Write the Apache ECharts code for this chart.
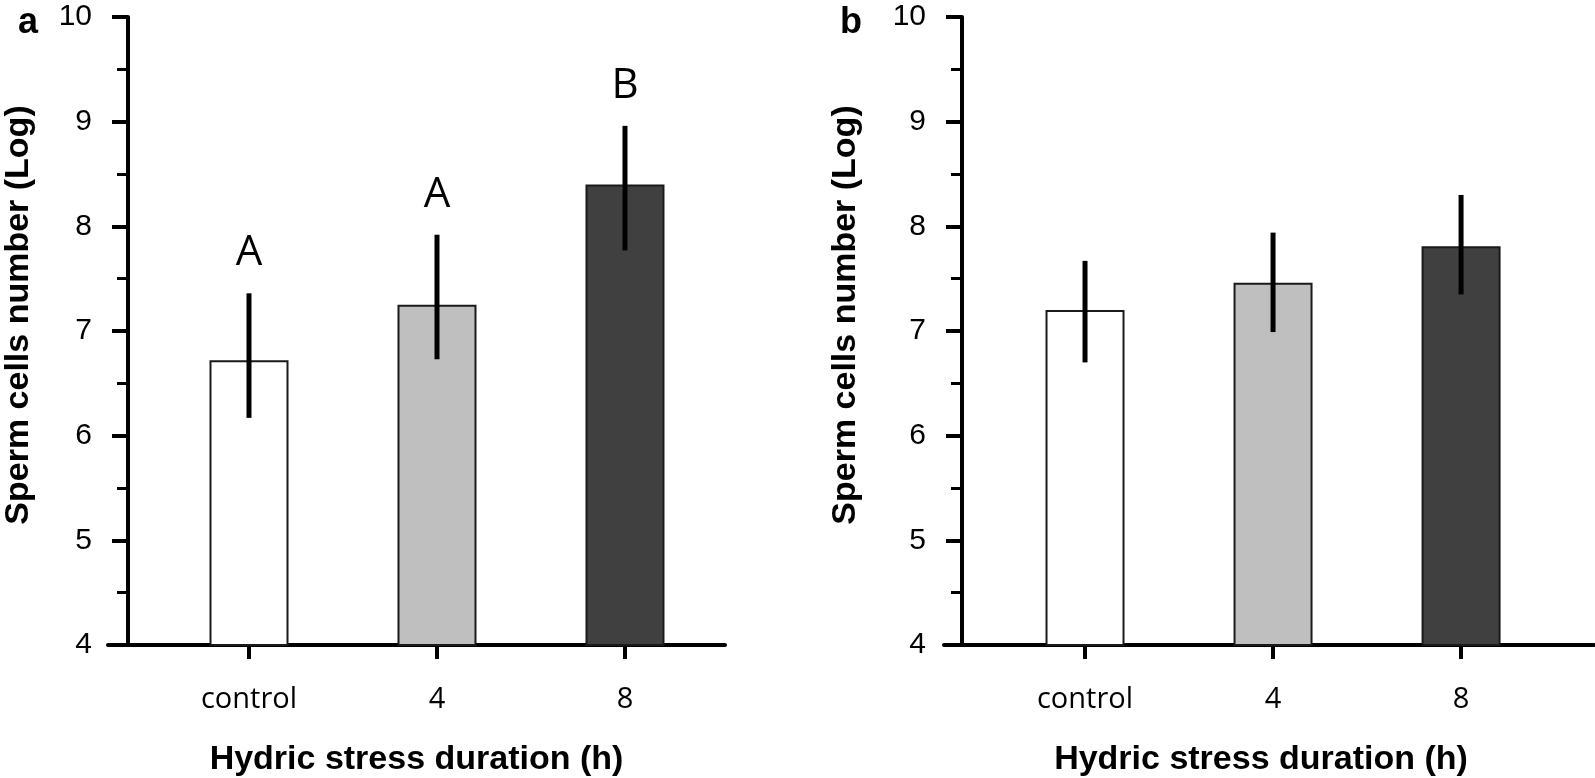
<!DOCTYPE html>
<html>
<head>
<meta charset="utf-8">
<script src="https://cdn.jsdelivr.net/npm/echarts@6/dist/echarts.min.js"></script>
<style>
html,body{margin:0;padding:0;background:#fff;}
#c{width:1595px;height:778px;}
</style>
</head>
<body>
<div id="c"></div>
<script>
// ---- data ----
const categories = ['control', '4', '8'];
const meanA = [6.72, 7.25, 8.40];
const lowA  = [6.17, 6.73, 7.77];
const highA = [7.36, 7.92, 8.96];
const lettersA = ['A', 'A', 'B'];
const meanB = [7.20, 7.46, 7.81];
const lowB  = [6.70, 6.99, 7.35];
const highB = [7.67, 7.94, 8.30];
const lettersB = ['', '', ''];
const panelLabels = ['a', 'b'];
const barColors = ['#ffffff', '#bfbfbf', '#404040'];
const yName = 'Sperm cells number (Log)';
const xName = 'Hydric stress duration (h)';

const chart = echarts.init(document.getElementById('c'), null, {renderer: 'canvas'});

function xAxisDef(gi, maxV, padRight) {
  return {
    type: 'value', gridIndex: gi, min: -0.75, max: maxV,
    splitLine: {show: false},
    axisLine: {show: true, onZero: false, lineStyle: {color: '#000', width: 4}},
    axisTick: {show: true, customValues: [0, 1, 2], length: 14, lineStyle: {color: '#000', width: 4}},
    axisLabel: {show: true, customValues: [0, 1, 2], margin: 40,
      formatter: v => categories[Math.round(v)],
      fontFamily: 'Open Sans', fontSize: 29, color: '#000'},
    name: xName, nameLocation: 'middle', nameGap: 98,
    nameTextStyle: {fontFamily: 'Liberation Sans', fontWeight: 'bold', fontSize: 34, color: '#000', padding: [0, padRight, 0, 0]}
  };
}
function yAxisDef(gi, offset, gap) {
  return {
    type: 'value', gridIndex: gi, min: 4, max: 10, interval: 1, offset: offset,
    splitLine: {show: false},
    axisLine: {show: true, onZero: false, lineStyle: {color: '#000', width: 4}},
    axisTick: {show: true, length: 16, lineStyle: {color: '#000', width: 4}},
    minorTick: {show: true, splitNumber: 2, length: 11, lineStyle: {color: '#000', width: 3}},
    axisLabel: {margin: 36, fontFamily: 'Liberation Sans', fontSize: 30, color: '#000'},
    name: yName, nameLocation: 'middle', nameGap: gap,
    nameTextStyle: {fontFamily: 'Liberation Sans', fontWeight: 'bold', fontSize: 34, color: '#000', padding: [0, 0, 0, 32]}
  };
}
function barSeries(gi, means) {
  return {
    type: 'bar', xAxisIndex: gi, yAxisIndex: gi, barWidth: 79,
    data: means.map((m, i) => ({value: [i, m], itemStyle: {color: barColors[i], borderColor: '#1a1a1a', borderWidth: 2}})),
    z: 2, silent: true
  };
}
function errSeries(gi, lows, highs, letters) {
  return {
    type: 'custom', xAxisIndex: gi, yAxisIndex: gi, z: 5, silent: true,
    data: lows.map((l, i) => [i, l, highs[i]]),
    renderItem: function (params, api) {
      const x = api.value(0);
      const p1 = api.coord([x, api.value(1)]);
      const p2 = api.coord([x, api.value(2)]);
      const children = [{
        type: 'line',
        shape: {x1: p1[0], y1: p1[1], x2: p2[0], y2: p2[1]},
        style: {stroke: '#000', lineWidth: 5}
      }];
      const t = letters[params.dataIndex];
      if (t) {
        children.push({
          type: 'text',
          style: {text: t, x: p2[0], y: p2[1] - 40, align: 'center', verticalAlign: 'middle',
            font: '42px "Open Sans"', fill: '#000'}
        });
      }
      return {type: 'group', children: children};
    }
  };
}

chart.setOption({
  animation: false,
  backgroundColor: '#fff',
  title: [
    {text: panelLabels[0], left: 13, top: 0, textStyle: {fontFamily: 'Liberation Sans', fontWeight: 'bold', fontSize: 36, color: '#000'}},
    {text: panelLabels[1], left: 835, top: 0, textStyle: {fontFamily: 'Liberation Sans', fontWeight: 'bold', fontSize: 36, color: '#000'}}
  ],
  grid: [
    {left: 108, top: 17, width: 617, height: 628, containLabel: false, outerBoundsMode: 'none'},
    {left: 944, top: 17, width: 650, height: 628, containLabel: false, outerBoundsMode: 'none'}
  ],
  xAxis: [xAxisDef(0, 2.532, 0), xAxisDef(1, 2.707, 16)],
  yAxis: [yAxisDef(0, -20, 92), yAxisDef(1, -18, 99)],
  series: [
    barSeries(0, meanA), errSeries(0, lowA, highA, lettersA),
    barSeries(1, meanB), errSeries(1, lowB, highB, lettersB)
  ]
});
</script>
</body>
</html>
